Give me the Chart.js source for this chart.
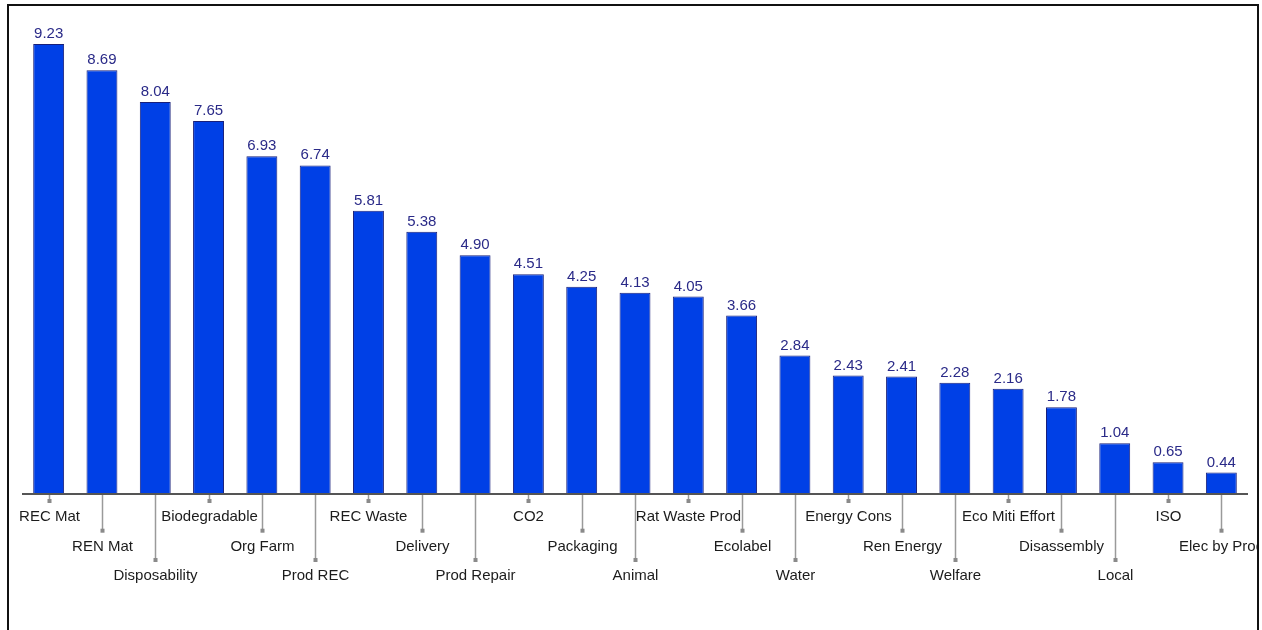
<!DOCTYPE html>
<html>
<head>
<meta charset="utf-8">
<script src="https://cdn.jsdelivr.net/npm/chart.js@4/dist/chart.umd.min.js"></script>
<style>
  html, body { margin: 0; padding: 0; background: #ffffff; overflow: hidden; }
  #frame {
    position: absolute; left: 7px; top: 4px;
    width: 1248px; height: 640px;
    border: 2px solid #111111;
    overflow: hidden;
  }
  #wrap { position: absolute; left: 0; top: 0; width: 1248px; height: 640px; }
</style>
</head>
<body>
<div id="frame"><div id="wrap"><canvas id="chart"></canvas></div></div>
<script>
const categories = [
  "REC Mat", "REN Mat", "Disposability", "Biodegradable", "Org Farm", "Prod REC",
  "REC Waste", "Delivery", "Prod Repair", "CO2", "Packaging", "Animal",
  "Rat Waste Prod", "Ecolabel", "Water", "Energy Cons", "Ren Energy", "Welfare",
  "Eco Miti Effort", "Disassembly", "Local", "ISO", "Elec by Prod"
];
const scores = [
  9.23, 8.69, 8.04, 7.65, 6.93, 6.74,
  5.81, 5.38, 4.90, 4.51, 4.25, 4.13,
  4.05, 3.66, 2.84, 2.43, 2.41, 2.28,
  2.16, 1.78, 1.04, 0.65, 0.44
];

const FONT = '15px "Liberation Sans", Arial, sans-serif';

// Draws the baseline, staggered category labels with leader lines, and value labels.
const annotate = {
  id: 'annotate',
  afterDatasetsDraw(chart) {
    const ctx = chart.ctx;
    const area = chart.chartArea;
    const xs = chart.scales.x;
    const meta = chart.getDatasetMeta(0);
    const base = area.bottom;

    ctx.save();
    // value labels above each bar
    ctx.font = FONT;
    ctx.fillStyle = '#2a2a88';
    ctx.textAlign = 'center';
    ctx.textBaseline = 'alphabetic';
    meta.data.forEach((bar, i) => {
      ctx.fillText(scores[i].toFixed(2), bar.x, bar.y - 6);
    });

    // baseline
    ctx.strokeStyle = '#555555';
    ctx.lineWidth = 2;
    ctx.beginPath();
    ctx.moveTo(area.left, base);
    ctx.lineTo(area.right, base);
    ctx.stroke();

    // category labels on three staggered rows
    const markY = [base + 7, base + 36.7, base + 66];
    const textY = [base + 23, base + 52.5, base + 81.5];
    categories.forEach((name, i) => {
      const x = Math.round(xs.getPixelForValue(i)) + 0.5;
      const lvl = i % 3;
      ctx.strokeStyle = '#9a9a9a';
      ctx.lineWidth = 1.5;
      ctx.beginPath();
      ctx.moveTo(x, base + 1);
      ctx.lineTo(x, markY[lvl]);
      ctx.stroke();
      ctx.fillStyle = '#8a8a8a';
      ctx.fillRect(x - 2, markY[lvl] - 2, 4, 4);
      ctx.fillStyle = '#1c1c1c';
      ctx.textBaseline = 'middle';
      ctx.fillText(name, x, textY[lvl]);
    });
    ctx.restore();
  }
};

new Chart(document.getElementById('chart'), {
  type: 'bar',
  data: {
    labels: categories,
    datasets: [{
      data: scores,
      backgroundColor: '#0040e6',
      borderColor: '#18207a',
      borderWidth: 1,
      borderSkipped: 'bottom',
      categoryPercentage: 1.0,
      barPercentage: 0.58
    }]
  },
  options: {
    responsive: true,
    maintainAspectRatio: false,
    animation: false,
    layout: { padding: { left: 13, right: 9, top: 24.875, bottom: 152 } },
    plugins: { legend: { display: false }, tooltip: { enabled: false } },
    scales: {
      x: { display: false },
      y: { display: false, min: 0, max: 9.5 }
    }
  },
  plugins: [annotate]
});
</script>
</body>
</html>
